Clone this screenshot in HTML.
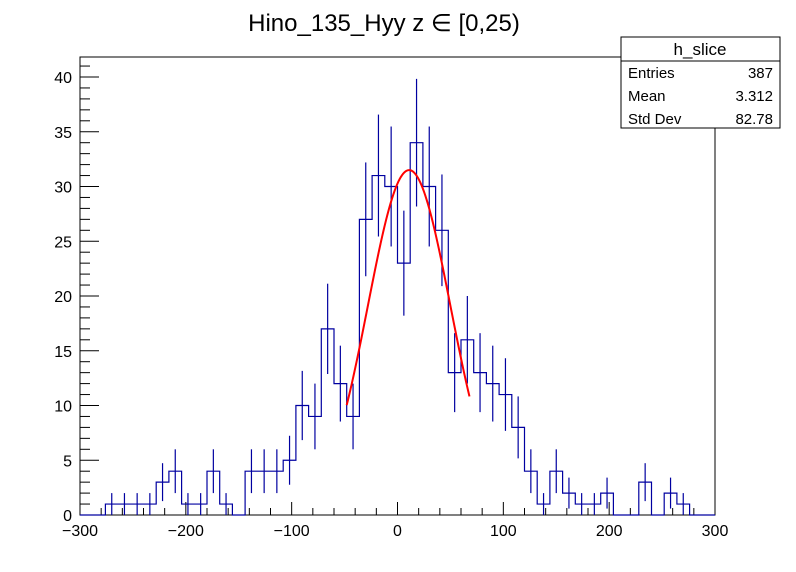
<!DOCTYPE html>
<html><head><meta charset="utf-8"><style>
html,body{margin:0;padding:0;background:#fff;}
svg{display:block;font-family:"Liberation Sans",sans-serif;}
</style></head><body>
<svg id="c" width="796" height="572" viewBox="0 0 796 572">
<rect x="0" y="0" width="796" height="572" fill="#fff"/>
<text x="384" y="31" font-size="24" text-anchor="middle">Hino_135_Hyy z  ∈ [0,25)</text>
<g id="plot"></g>
<g>
<rect x="621" y="37" width="159" height="91" fill="#fff" stroke="#000" stroke-width="1"/>
<line x1="621" y1="61" x2="780" y2="61" stroke="#000"/>
<text x="700" y="55" font-size="17" text-anchor="middle">h_slice</text>
<text x="628" y="78" font-size="15">Entries</text>
<text x="773" y="78" font-size="15" text-anchor="end">387</text>
<text x="628" y="101" font-size="15">Mean</text>
<text x="773" y="101" font-size="15" text-anchor="end">3.312</text>
<text x="628" y="124" font-size="15">Std Dev</text>
<text x="773" y="124" font-size="15" text-anchor="end">82.78</text>
</g>
</svg>
<script>
const counts = [0,0,1,1,1,1,3,4,1,1,4,1,0,4,4,4,5,10,9,17,12,9,27,31,30,23,34,30,26,13,16,13,12,11,8,4,1,4,2,1,1,2,0,0,3,0,2,1,0,0];
const xTicks = [-300,-200,-100,0,100,200,300];
const yTicks = [0,5,10,15,20,25,30,35,40];
const fitAmp = 31.5, fitMean = 11, fitSigma = 39, fitMin = -48, fitMax = 68;
const xMin=-300, xMax=300, binW=12;

const L=80,R=715,T=57,B=515;
const sx = v => L + (v - xMin) * (R - L) / (xMax - xMin);
const sy = v => B - v * 10.95;
const NS='http://www.w3.org/2000/svg';
const g=document.getElementById('plot');
function mk(tag,attrs){const e=document.createElementNS(NS,tag);for(const k in attrs)e.setAttribute(k,attrs[k]);g.appendChild(e);return e;}

const frame=mk('rect',{x:L,y:T,width:R-L,height:B-T,fill:'none',stroke:'#000','stroke-width':1});



// x ticks
for(let v=xMin; v<=xMax; v+=20){
  const major = v%100===0;
  const t=mk('line',{x1:sx(v),x2:sx(v),y1:B,y2:B-(major?13:7),stroke:'#000'});
  
  
}
xTicks.forEach(v=>{
  const t=mk('text',{x:sx(v),y:B+21,'font-size':16,'text-anchor':'middle'});
  t.textContent = v<0 ? '\u2212'+(-v) : String(v);
  
  
});
// y ticks
for(let v=0; v<=41; v+=1){
  const major = v%5===0;
  const t=mk('line',{x1:L,x2:L+(major?19:10),y1:sy(v),y2:sy(v),stroke:'#000'});
  
  
}
yTicks.forEach(v=>{
  const t=mk('text',{x:L-8,y:sy(v)+6,'font-size':16,'text-anchor':'end'});
  t.textContent=String(v);
  
  
});

// histogram step
let d='M'+sx(xMin)+','+sy(0);
counts.forEach((c,i)=>{
  const x0=sx(xMin+i*binW), x1=sx(xMin+(i+1)*binW);
  d+=' L'+x0+','+sy(c)+' L'+x1+','+sy(c);
});
d+=' L'+sx(xMax)+','+sy(0);
const h=mk('path',{d:d,fill:'none',stroke:'#0000a0','stroke-width':1.2});



// error bars
counts.forEach((c,i)=>{
  if(c<=0) return;
  const xc=sx(xMin+(i+0.5)*binW), e=Math.sqrt(c);
  const l=mk('line',{x1:xc,x2:xc,y1:sy(c-e),y2:sy(c+e),stroke:'#0000a0','stroke-width':1.2});
  
  
});

// fit
let fd='';
for(let k=0;k<=100;k++){
  const x=fitMin+(fitMax-fitMin)*k/100;
  const y=fitAmp*Math.exp(-Math.pow(x-fitMean,2)/(2*fitSigma*fitSigma));
  fd+=(k?' L':'M')+sx(x)+','+sy(y);
}
const f=mk('path',{d:fd,fill:'none',stroke:'#ff0000','stroke-width':2});


</script>
</body></html>
